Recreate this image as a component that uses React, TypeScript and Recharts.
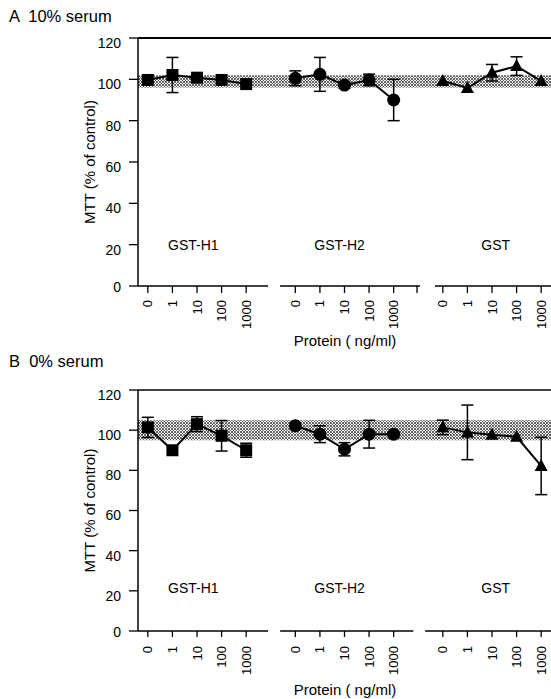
import React from "react";
import {
  ComposedChart,
  Line,
  XAxis,
  YAxis,
  ReferenceArea,
  ReferenceLine,
  ReferenceDot,
  ErrorBar,
} from "recharts";

const FONT = '"Liberation Sans", Arial, Helvetica, sans-serif';

// categories
const doses = ["0", "1", "10", "100", "1000"];
const groups = ["GST-H1", "GST-H2", "GST"];
const groupOffset = [0, 6, 12];
const yTicks = [0, 20, 40, 60, 80, 100, 120];

// Panel A: 10% serum
const aH1 = [99.7, 102.1, 100.8, 99.7, 97.7];
const aH1Err = [0, 8.5, 0, 0, 0];
const aH2 = [100.5, 102.4, 97.2, 99.7, 90];
const aH2Err = [3.6, 8.2, 1.5, 2.8, 10];
const aGST = [99.2, 95.8, 103.2, 106.4, 99.2];
const aGSTErr = [0, 0, 4, 4.5, 0];
const aBand = [96, 102];

// Panel B: 0% serum
const bH1 = [101.4, 90, 103, 97.2, 90];
const bH1Err = [5, 0, 3.7, 7.6, 3.5];
const bH2 = [102.2, 98, 90.5, 98, 98];
const bH2Err = [0, 4.2, 3.3, 6.9, 0];
const bGST = [101.4, 98.9, 97.7, 96.7, 82.2];
const bGSTErr = [3.6, 13.6, 0, 0, 14.3];
const bBand = [95, 105];

const series = (vals: number[], errs: number[], g: number) =>
  vals.map((v, i) => ({ x: groupOffset[g] + i, y: v, e: errs[i] }));

const doseTicks = groupOffset.flatMap((o) => doses.map((_, i) => o + i));

const doseLabel = (v: number) => {
  for (const o of groupOffset) {
    const i = v - o;
    if (Number.isInteger(i) && i >= 0 && i < doses.length) return doses[i];
  }
  return "";
};

const XTick = (props: any) => {
  const { x, y, payload } = props;
  const lab = doseLabel(payload.value);
  if (!lab) return <g />;
  return (
    <text
      x={x}
      y={y}
      transform={`rotate(-90 ${x} ${y})`}
      textAnchor="end"
      dy="0.35em"
      fontSize={13}
      fontFamily={FONT}
      fill="#000"
    >
      {lab}
    </text>
  );
};

const YTick = (props: any) => {
  const { x, y, payload } = props;
  return (
    <text
      x={x}
      y={y + (payload.value === 0 ? 1 : 5)}
      textAnchor="end"
      dy="0.35em"
      fontSize={14}
      fontFamily={FONT}
      fill="#000"
    >
      {payload.value}
    </text>
  );
};

const TextLabel = (props: any) => {
  const { px, py, rot = 0, size, text } = props;
  return (
    <text
      x={px}
      y={py}
      transform={rot ? `rotate(${rot} ${px} ${py})` : undefined}
      textAnchor="middle"
      dy="0.35em"
      fontSize={size}
      fontFamily={FONT}
      fill="#000"
    >
      {text}
    </text>
  );
};

const Square = (p: any) => (
  <rect key={p.key} x={p.cx - 6} y={p.cy - 6} width={12} height={12} fill="#000" />
);
const Circle = (p: any) => <circle key={p.key} cx={p.cx} cy={p.cy} r={6.5} fill="#000" />;
const Triangle = (p: any) => (
  <polygon
    key={p.key}
    points={`${p.cx},${p.cy - 7} ${p.cx - 6.5},${p.cy + 5} ${p.cx + 6.5},${p.cy + 5}`}
    fill="#000"
  />
);
const shapes = [Square, Circle, Triangle];

type PanelProps = {
  id: string;
  vals: number[][];
  errs: number[][];
  band: number[];
  height: number;
  top: number;
  xAxisHeight: number;
  tickSize: number;
  tickMargin: number;
  groupLabelY: number;
  segments: number[][];
  extraTicks: number[];
  topStroke: number;
};

const Panel = (p: PanelProps) => {
  const plotH = p.height - p.top - p.xAxisHeight;
  return (
    <ComposedChart
      width={551}
      height={p.height}
      margin={{ top: p.top, right: 0, bottom: 0, left: 0 }}
    >
      <defs>
        <pattern id={p.id} width="3" height="3" patternUnits="userSpaceOnUse">
          <rect width="3" height="3" fill="#fff" />
          <circle cx="1" cy="1" r="1" fill="#333" />
          <circle cx="2.5" cy="2.5" r="0.7" fill="#555" />
        </pattern>
      </defs>
      <XAxis
        type="number"
        dataKey="x"
        domain={[-0.4, 16.4]}
        ticks={[...doseTicks, ...p.extraTicks]}
        interval={0}
        tick={<XTick />}
        tickSize={p.tickSize}
        tickMargin={p.tickMargin}
        tickLine={{ stroke: "#000", strokeWidth: 1.3 }}
        axisLine={false}
        height={p.xAxisHeight}
        allowDataOverflow
        label={<TextLabel px={345} py={p.height - 9} size={15} text="Protein ( ng/ml)" />}
      />
      <YAxis
        type="number"
        domain={[0, 120]}
        ticks={yTicks}
        interval={0}
        width={138}
        tick={<YTick />}
        tickSize={9}
        tickMargin={8}
        tickLine={{ stroke: "#000", strokeWidth: 1.3 }}
        axisLine={{ stroke: "#000", strokeWidth: 1.5 }}
        allowDataOverflow
        label={
          <TextLabel px={90} py={p.top + plotH / 2} rot={-90} size={15} text="MTT (% of control)" />
        }
      />
      <ReferenceArea
        y1={p.band[0]}
        y2={p.band[1]}
        fill={`url(#${p.id})`}
        fillOpacity={1}
        stroke="none"
        ifOverflow="visible"
      />
      <ReferenceLine y={120} stroke="#000" strokeWidth={p.topStroke} ifOverflow="visible" />
      {p.segments.map((s, i) => (
        <ReferenceLine
          key={`seg${i}`}
          segment={[
            { x: s[0], y: 0 },
            { x: s[1], y: 0 },
          ]}
          stroke="#000"
          strokeWidth={1.5}
          ifOverflow="visible"
        />
      ))}
      {groups.map((g, i) => (
        <ReferenceDot
          key={g}
          x={[1.85, 7.8, 14.15][i]}
          y={p.groupLabelY}
          r={0}
          fill="none"
          stroke="none"
          label={{ value: g, position: "center", fontSize: 14, fill: "#000", fontFamily: FONT }}
        />
      ))}
      {groups.map((g, gi) => (
        <Line
          key={`line${gi}`}
          data={series(p.vals[gi], p.errs[gi], gi)}
          dataKey="y"
          stroke="#000"
          strokeWidth={2}
          dot={shapes[gi]}
          activeDot={false}
          isAnimationActive={false}
        >
          <ErrorBar dataKey="e" width={6} stroke="#000" strokeWidth={1.5} direction="y" />
        </Line>
      ))}
    </ComposedChart>
  );
};

const titleStyle: React.CSSProperties = {
  position: "absolute",
  left: 9,
  fontFamily: FONT,
  fontSize: 16.5,
  lineHeight: "18px",
  whiteSpace: "pre",
  color: "#000",
};

export default function App() {
  return (
    <div style={{ position: "absolute", left: 0, top: 0, width: 551, height: 699, background: "#fff" }}>
      <div style={{ ...titleStyle, top: 7 }}>{"A  10% serum"}</div>
      <div style={{ position: "absolute", left: 0, top: 0 }}>
        <Panel
          id="stippleA"
          vals={[aH1, aH2, aGST]}
          errs={[aH1Err, aH2Err, aGSTErr]}
          band={aBand}
          height={350}
          top={38}
          xAxisHeight={64}
          tickSize={7}
          tickMargin={7}
          groupLabelY={20}
          segments={[
            [-0.4, 4.89],
            [5.38, 11.07],
            [11.68, 16.4],
          ]}
          extraTicks={[10.95]}
          topStroke={2}
        />
      </div>
      <div style={{ ...titleStyle, top: 352 }}>{"B  0% serum"}</div>
      <div style={{ position: "absolute", left: 0, top: 350 }}>
        <Panel
          id="stippleB"
          vals={[bH1, bH2, bGST]}
          errs={[bH1Err, bH2Err, bGSTErr]}
          band={bBand}
          height={349}
          top={40}
          xAxisHeight={68}
          tickSize={6}
          tickMargin={9}
          groupLabelY={21.5}
          segments={[
            [-0.4, 4.89],
            [5.38, 10.8],
            [11.28, 16.4],
          ]}
          extraTicks={[]}
          topStroke={1.5}
        />
      </div>
    </div>
  );
}
